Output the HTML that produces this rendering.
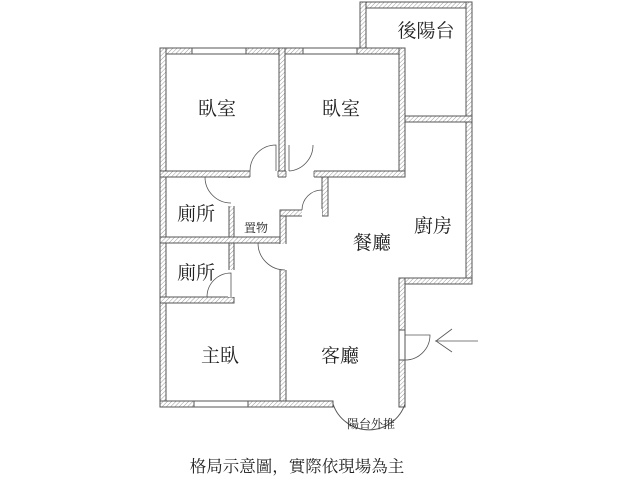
<!DOCTYPE html>
<html><head><meta charset="utf-8"><style>
html,body{margin:0;padding:0;background:#fff;width:640px;height:480px;overflow:hidden}
text{font-family:"Liberation Serif","Noto Serif CJK SC","Noto Sans CJK TC",serif;fill:#222}
</style></head><body>
<svg width="640" height="480" viewBox="0 0 640 480" xmlns="http://www.w3.org/2000/svg">
<defs>
<pattern id="h" width="3" height="3" patternUnits="userSpaceOnUse" patternTransform="rotate(45)">
<rect width="3" height="3" fill="#fff"/><line x1="0" y1="0" x2="0" y2="3" stroke="#999" stroke-width="1"/>
</pattern>
</defs>
<g fill="url(#h)" stroke="#555" stroke-width="1">
<rect x="360" y="2" width="112" height="6"/>
<rect x="360" y="2" width="6" height="52"/>
<rect x="466" y="2" width="6" height="282"/>
<rect x="399" y="116" width="73" height="6"/>
<rect x="160" y="48" width="245" height="6"/>
<rect x="160" y="48" width="6" height="359"/>
<rect x="279" y="48" width="6" height="129"/>
<rect x="399" y="48" width="6" height="129"/>
<rect x="160" y="171" width="245" height="6"/>
<rect x="229" y="177" width="5" height="126"/>
<rect x="160" y="237" width="126" height="6"/>
<rect x="160" y="297" width="74" height="6"/>
<rect x="280" y="210" width="6" height="195"/>
<rect x="280" y="210" width="48" height="6"/>
<rect x="322" y="177" width="6" height="39"/>
<rect x="399" y="278" width="73" height="6"/>
<rect x="399" y="278" width="6" height="129"/>
<rect x="160" y="401" width="173" height="6"/>
</g>
<g fill="#fff" stroke="#555" stroke-width="1">
<rect x="192" y="48" width="54" height="6"/>
<rect x="303" y="48" width="54" height="6"/>
<rect x="194" y="401" width="54" height="6"/>
<rect x="399" y="330" width="6" height="30"/>
</g>
<g fill="#fff" stroke="none">
<rect x="250" y="170" width="28" height="8"/>
<rect x="286" y="170" width="28" height="8"/>
<rect x="228" y="178" width="7" height="28"/>
<rect x="228" y="270" width="7" height="27"/>
<rect x="302" y="209" width="20" height="8"/>
<rect x="279" y="244" width="8" height="26"/>
</g>
<g fill="none" stroke="#555" stroke-width="0.8">
<path d="M250 171 V177 M278 171 V177 M286 171 V177 M314 171 V177"/>
<path d="M250 171 A26 26 0 0 1 276 145 V171"/>
<path d="M289 171 A26 26 0 0 0 313 145 M289 145 V171"/>
<path d="M205 177 A26 26 0 0 0 231 203"/>
<path d="M207 297 A24 24 0 0 1 231 273 V297"/>
<path d="M302 210 A20 20 0 0 1 322 190"/>
<path d="M258 243 A27 27 0 0 0 285 270"/>
<path d="M405 335 H430 A25 25 0 0 1 405 360"/>
<path d="M333 404 A38 38 0 0 0 405 404" stroke-width="1"/>
<line x1="435" y1="341" x2="478" y2="341"/>
<path d="M452 329 L436 341 L452 352"/>
</g>
<g font-size="19" text-anchor="middle">
<text x="426" y="37">後陽台</text>
<text x="217" y="115">臥室</text>
<text x="341" y="115">臥室</text>
<text x="196" y="220">廁所</text>
<text x="196" y="279">廁所</text>
<text x="433" y="232">廚房</text>
<text x="372" y="249">餐廳</text>
<text x="220" y="362">主臥</text>
<text x="340" y="362">客廳</text>
</g>
<text x="256" y="232" font-size="12" text-anchor="middle">置物</text>
<text x="371" y="428" font-size="12" text-anchor="middle">陽台外推</text>
<text x="297" y="472" font-size="16.5" text-anchor="middle">格局示意圖，實際依現場為主</text>
</svg>
</body></html>
